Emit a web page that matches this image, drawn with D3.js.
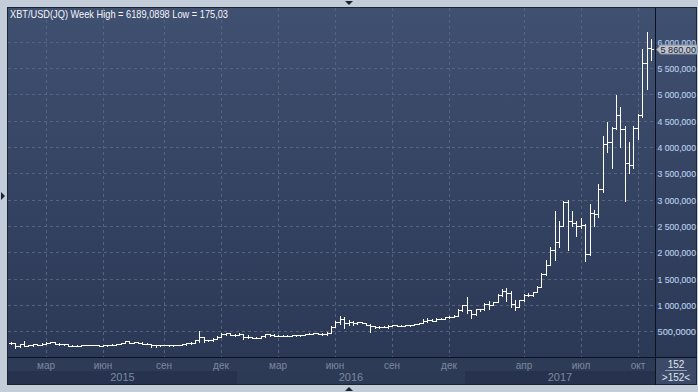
<!DOCTYPE html>
<html><head><meta charset="utf-8">
<script src="https://cdn.jsdelivr.net/npm/d3@7"></script>
<style>html,body{margin:0;padding:0;background:#c3ccd9;overflow:hidden}svg{display:block;font-family:"Liberation Sans",Arial,sans-serif}</style>
</head><body><svg id="c" width="698" height="392"></svg>
<script>
// ---- DATA (weekly OHLC, XBT/USD, weeks starting Monday 2015-01-05) ----
const firstWeek = "2015-01-05";
const opens = [274,266,210,253,225,228,258,237,260,275,285,261,253,254,223,223,226,239,241,233,241,226,233,232,243,251,271,310,278,289,282,263,260,228,230,240,231,231,234,238,247,269,283,325,385,330,323,360,395,455,460,425,
430,448,382,395,372,376,400,438,434,410,414,411,416,420,418,429,450,455,460,455,442,470,576,680,730,660,680,650,665,655,625,590,570,585,575,607,608,607,600,613,618,638,655,700,710,702,730,732,765,775,790,900,
995,900,825,920,915,1020,1000,1055,1180,1260,1230,1020,960,1090,1180,1180,1240,1340,1580,1760,2050,2200,2500,2950,2600,2550,2500,2520,1970,2750,2720,3200,4050,4100,4350,4600,4330,3700,3650,4350,4600,5600,5880];
const highs = [300,272,255,310,245,262,262,278,295,297,290,272,263,260,235,238,240,246,245,244,242,233,236,254,253,275,311,315,290,297,285,271,262,235,238,246,236,238,242,249,272,285,330,500,390,338,365,400,465,470,465,440,
460,455,420,398,390,407,445,440,440,425,420,420,425,425,432,452,466,462,464,457,475,590,700,780,770,705,685,680,680,660,630,600,590,590,610,625,612,610,615,620,645,660,735,745,740,755,745,770,780,800,930,1000,
1150,910,930,925,1030,1080,1060,1200,1300,1325,1260,1100,1100,1210,1220,1250,1350,1600,1850,2100,2790,2600,2980,2990,2780,2600,2650,2530,2920,2800,3300,4200,4480,4380,4980,4750,4400,4100,4400,4620,5860,6189,6050];
const lows = [265,175,205,215,213,215,228,233,258,270,250,235,240,217,214,219,214,232,232,232,223,220,225,231,238,250,266,272,275,280,260,258,200,198,225,228,225,226,233,236,245,263,283,300,300,315,315,355,385,430,420,415,
425,360,370,365,365,370,398,410,400,400,405,405,410,415,415,426,440,440,449,434,436,470,570,640,555,625,610,645,650,620,480,565,565,570,565,600,600,590,595,605,615,630,650,680,700,695,725,730,755,770,790,890,
850,750,800,880,910,930,995,1050,1170,1080,950,900,950,1080,1160,1170,1240,1340,1560,1750,1850,2100,2500,2050,2500,2300,2450,1830,1950,2500,2670,3150,3900,3600,4330,4000,2970,3500,3600,4150,4560,5100,5650];
const closes = [266,210,253,225,228,258,237,260,275,285,261,253,254,223,223,226,239,241,233,241,226,233,232,243,251,271,310,278,289,282,263,260,228,230,240,231,231,234,238,247,269,283,325,385,330,323,360,395,455,460,425,430,
448,382,395,372,376,400,438,434,410,414,411,416,420,418,429,450,455,460,455,442,470,576,680,730,660,680,650,665,655,625,590,570,585,575,607,608,607,600,613,618,638,655,700,710,702,730,732,765,775,790,900,995,
900,825,920,915,1020,1000,1055,1180,1260,1230,1020,960,1090,1180,1180,1240,1340,1580,1760,2050,2200,2500,2950,2600,2550,2500,2520,1970,2750,2720,3200,4050,4100,4350,4600,4330,3700,3650,4350,4600,5600,5880,5860];
const monthTicks  = ["2015-03","2015-06","2015-09","2015-12","2016-03","2016-06","2016-09","2016-12","2017-04","2017-07","2017-10"];
const monthLabels = ["мар","июн","сен","дек","мар","июн","сен","дек","апр","июл","окт"];
const years = ["2015","2016","2017"];
const yTicks = [500,1000,1500,2000,2500,3000,3500,4000,4500,5000,5500,6000];
const yTickLabels = ["500,0000","1 000,000","1 500,000","2 000,000","2 500,000","3 000,000","3 500,000","4 000,000","4 500,000","5 000,000","5 500,000","6 000,000"];
const titleText = "XBT/USD(JQ) Week High = 6189,0898 Low = 175,03";
const lastPriceLabel = "5 860,00";
const barCount = "152";

// ---- CHART ----
const W=698,H=392;
const svg=d3.select("#c");
const parse=d3.timeParse("%Y-%m-%d");
const start=parse(firstWeek);
const data=closes.map((c,i)=>({i,date:d3.timeDay.offset(start,7*i),o:opens[i],h:highs[i],l:lows[i],c}));
const x=d3.scaleLinear().domain([8,146]).range([46,651]);
const y=d3.scaleLinear().domain([0,6000]).range([357.5,41.5]);
const L=8,R=655,T=8,B=357;

const defs=svg.append("defs");
const g=defs.append("linearGradient").attr("id","bg").attr("x1",0).attr("x2",0).attr("y1",0).attr("y2",1);
g.append("stop").attr("offset","0%").attr("stop-color","#405070");
g.append("stop").attr("offset","100%").attr("stop-color","#2b3856");
defs.append("clipPath").attr("id","pc").append("rect").attr("x",L).attr("y",T).attr("width",R-L).attr("height",B-T);

svg.append("rect").attr("width",W).attr("height",H).attr("fill","#c3ccd9");
// panel
svg.append("rect").attr("x",7).attr("y",7).attr("width",690).attr("height",378).attr("fill","#1c2434");
svg.append("rect").attr("x",8).attr("y",8).attr("width",688).attr("height",349).attr("fill","url(#bg)");
// bottom axis area
svg.append("rect").attr("x",8).attr("y",358).attr("width",647).attr("height",26).attr("fill","#2e3b57");

const fmtM=d3.timeFormat("%Y-%m");
const tickIdx=monthTicks.map(m=>data.find(d=>fmtM(d.date)===m).i);
const yearStart=years.map(yv=>data.find(d=>d.date.getFullYear()===+yv).i);
const yearEdges=yearStart.map((s,k)=>k===0?L:Math.round(x(s))-2).concat([R]);
years.forEach((yv,k)=>{
  svg.append("rect").attr("x",yearEdges[k]).attr("y",371).attr("width",yearEdges[k+1]-yearEdges[k]).attr("height",13)
    .attr("fill",k%2===0?"#27334e":"#2d3a56");
  svg.append("text").attr("x",(yearEdges[k]+yearEdges[k+1])/2).attr("y",381).attr("text-anchor","middle")
    .attr("font-size",11).attr("fill","#7c88a0").text(yv);
});
tickIdx.forEach((ti,k)=>{
  svg.append("text").attr("x",Math.round(x(ti))).attr("y",369).attr("text-anchor","middle")
    .attr("font-size",10).attr("fill","#7c88a0").text(monthLabels[k]);
});

// grid
const grid=svg.append("g").attr("stroke","#56637f").attr("stroke-dasharray","3,3").attr("stroke-width",1);
yTicks.forEach(v=>{const yy=Math.round(y(v))+0.5;grid.append("line").attr("x1",L).attr("x2",R).attr("y1",yy).attr("y2",yy);});
tickIdx.forEach(ti=>{const xx=Math.round(x(ti))+0.5;grid.append("line").attr("x1",xx).attr("x2",xx).attr("y1",T).attr("y2",B);});

// separators
svg.append("line").attr("x1",655.5).attr("x2",655.5).attr("y1",8).attr("y2",385).attr("stroke","#0d1220");
svg.append("line").attr("x1",8).attr("x2",697).attr("y1",357.5).attr("y2",357.5).attr("stroke","#0d1220");

// bars
const bars=svg.append("g").attr("clip-path","url(#pc)").attr("stroke","#ffffff").attr("stroke-width",1).attr("fill","none");
data.forEach(d=>{
  const xx=Math.round(x(d.i))+0.5;
  const yh=Math.round(y(d.h)),yl=Math.round(y(d.l));
  const yo=Math.round(y(d.o))+0.5,yc=Math.round(y(d.c))+0.5;
  bars.append("path").attr("d",`M${xx},${yh}V${Math.max(yl+1,yh+1)}M${xx-2.5},${yo}H${xx}M${xx},${yc}H${xx+2.5}`);
});

// right axis labels
const ra=svg.append("g");
yTicks.forEach((v,k)=>{
  ra.append("text").attr("x",657.5).attr("y",Math.round(y(v))+3.5).attr("font-size",9.2).attr("fill","#dbe5f6")
    .attr("textLength",38.5).attr("lengthAdjust","spacingAndGlyphs")
    .attr("stroke","#5f86c8").attr("stroke-width",0.2).text(yTickLabels[k]);
});
// last price marker
const lp=closes[closes.length-1];
const ly=Math.round(y(lp))+0.5;
ra.append("path").attr("d",`M656.5,${ly}L660.5,${ly-4.5}H697V${ly+4.5}H660.5Z`).attr("fill","#bcc3cf").attr("stroke","#8a93a3");
ra.append("text").attr("x",660.5).attr("y",ly+3.5).attr("font-size",9.2).attr("fill","#1a2130")
  .attr("textLength",35.5).attr("lengthAdjust","spacingAndGlyphs").text(lastPriceLabel);

// bottom-right box
svg.append("rect").attr("x",656).attr("y",358).attr("width",40).attr("height",26).attr("fill","#3c4a67");
svg.append("text").attr("x",676).attr("y",368).attr("text-anchor","middle").attr("font-size",10).attr("fill","#dfe6f2").text(barCount);
svg.append("line").attr("x1",665).attr("x2",687).attr("y1",370.5).attr("y2",370.5).attr("stroke","#8e9ab0");
svg.append("text").attr("x",676).attr("y",381).attr("text-anchor","middle").attr("font-size",10).attr("fill","#dfe6f2").text(">"+barCount+"<");

// title
svg.append("text").attr("x",10).attr("y",18).attr("font-size",10.8).attr("fill","#f4f6fa")
  .attr("textLength",218).attr("lengthAdjust","spacingAndGlyphs").text(titleText);

// frame markers
svg.append("path").attr("d","M345,1H353L349,5Z").attr("fill","#1c2333");
svg.append("path").attr("d","M1,192V200L5,196Z").attr("fill","#1c2333");
svg.append("path").attr("d","M345,391H353L349,387Z").attr("fill","#1c2333");
</script></body></html>
